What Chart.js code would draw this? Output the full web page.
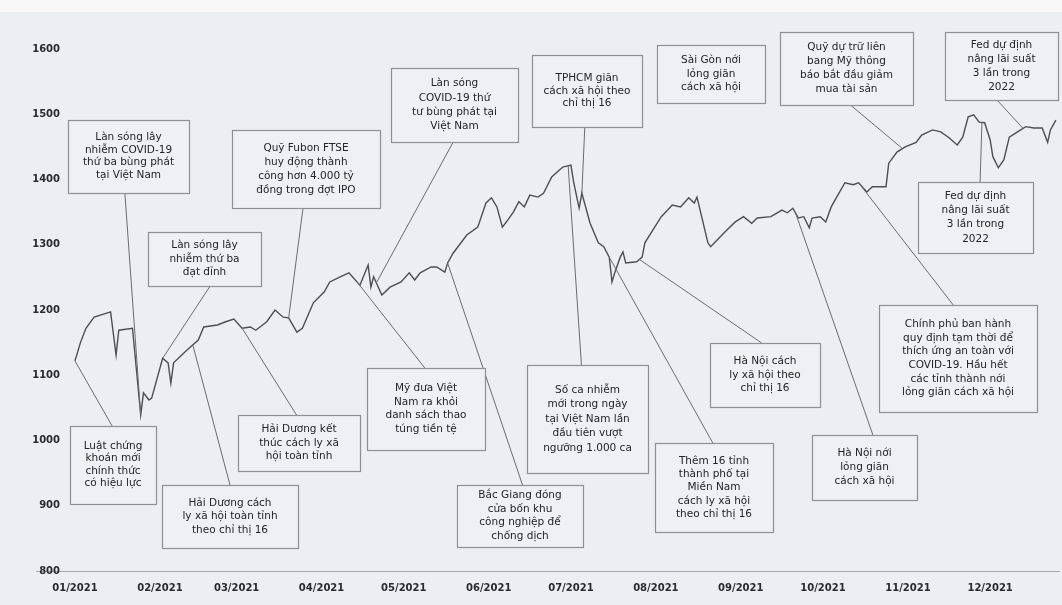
<!DOCTYPE html>
<html lang="vi">
<head>
<meta charset="utf-8">
<title>VN-Index 2021</title>
<script src="https://cdn.jsdelivr.net/npm/chart.js@4.4.0/dist/chart.umd.min.js"></script>
<style>
html, body { margin: 0; padding: 0; background: #eceef1; }
canvas { display: block; }
</style>
</head>
<body>
<canvas id="myChart" width="1062" height="605"></canvas>
<script>
// day of year (0 = 01/01/2021) and VN-Index value
var days = [0, 2, 4, 7, 13, 15, 16, 21, 24, 25, 27, 28, 32, 34, 35, 36, 41, 45, 47, 52, 55, 58,
    61, 64, 66, 70, 73, 76, 78, 81, 83, 87, 91, 93, 97, 100, 104, 107, 108, 109, 112, 115,
    119, 122, 124, 126, 130, 132, 135, 136, 138, 143, 147, 150, 152, 154, 156, 158, 160, 162, 164, 166,
    169, 171, 174, 178, 181, 182, 184, 185, 188, 191, 193, 195, 196, 197, 199, 200, 201, 205, 207, 208,
    211, 214, 218, 221, 224, 226, 227, 229, 231, 232, 235, 238, 241, 244, 247, 249, 254, 258, 260, 262,
    264, 266, 268, 269, 272, 274, 276, 278, 281, 284, 286, 289, 291, 296, 297, 300, 303, 307, 309, 313,
    316, 319, 322, 324, 326, 328, 330, 332, 334, 335, 337, 339, 341, 344, 347, 350, 353, 355, 356, 358];
var values = [1122, 1150, 1172, 1189, 1197, 1131, 1169, 1172, 1039, 1073, 1062, 1065, 1126, 1119, 1088, 1119, 1139, 1154, 1174, 1177, 1182, 1186,
    1172, 1174, 1169, 1182, 1200, 1189, 1188, 1166, 1172, 1211, 1228, 1243, 1251, 1257, 1238, 1269, 1235, 1251, 1223, 1235,
    1243, 1257, 1246, 1257, 1266, 1266, 1258, 1272, 1287, 1315, 1327, 1364, 1372, 1358, 1327, 1338, 1350, 1366, 1358, 1376,
    1373, 1379, 1404, 1419, 1422, 1396, 1356, 1379, 1333, 1303, 1297, 1281, 1243, 1257, 1281, 1289, 1272, 1274, 1281, 1303,
    1323, 1343, 1361, 1358, 1372, 1364, 1373, 1338, 1303, 1297, 1310, 1323, 1335, 1343, 1333, 1341, 1343, 1353, 1349, 1356,
    1341, 1343, 1326, 1341, 1343, 1335, 1358, 1373, 1395, 1392, 1395, 1381, 1389, 1389, 1425, 1442, 1450, 1457, 1468, 1476,
    1473, 1464, 1453, 1465, 1496, 1499, 1488, 1487, 1461, 1435, 1418, 1430, 1465, 1473, 1481, 1479, 1479, 1457, 1476, 1491];

var monthDays = [0, 31, 59, 90, 120, 151, 181, 212, 243, 273, 304, 334];
var monthLabels = ['01/2021', '02/2021', '03/2021', '04/2021', '05/2021', '06/2021',
    '07/2021', '08/2021', '09/2021', '10/2021', '11/2021', '12/2021'];
var yMin = 800;
var yMax = 1600;
var yStep = 100;

// event notes and the day each one points at (null = no pointer)
var noteTexts = [
    'Làn sóng lây\nnhiễm COVID-19\nthứ ba bùng phát\ntại Việt Nam',
    'Làn sóng lây\nnhiễm thứ ba\nđạt đỉnh',
    'Quỹ Fubon FTSE\nhuy động thành\ncông hơn 4.000 tỷ\nđồng trong đợt IPO',
    'Làn sóng\nCOVID-19 thứ\ntư bùng phát tại\nViệt Nam',
    'TPHCM giãn\ncách xã hội theo\nchỉ thị 16',
    'Sài Gòn nới\nlỏng giãn\ncách xã hội',
    'Quỹ dự trữ liên\nbang Mỹ thông\nbáo bắt đầu giảm\nmua tài sản',
    'Fed dự định\nnâng lãi suất\n3 lần trong\n2022',
    'Fed dự định\nnâng lãi suất\n3 lần trong\n2022',
    'Chính phủ ban hành\nquy định tạm thời để\nthích ứng an toàn với\nCOVID-19. Hầu hết\ncác tỉnh thành nới\nlỏng giãn cách xã hội',
    'Hà Nội nới\nlỏng giãn\ncách xã hội',
    'Hà Nội cách\nly xã hội theo\nchỉ thị 16',
    'Thêm 16 tỉnh\nthành phố tại\nMiền Nam\ncách ly xã hội\ntheo chỉ thị 16',
    'Số ca nhiễm\nmới trong ngày\ntại Việt Nam lần\nđầu tiên vượt\nngưỡng 1.000 ca',
    'Bắc Giang đóng\ncửa bốn khu\ncông nghiệp để\nchống dịch',
    'Mỹ đưa Việt\nNam ra khỏi\ndanh sách thao\ntúng tiền tệ',
    'Hải Dương kết\nthúc cách ly xã\nhội toàn tỉnh',
    'Hải Dương cách\nly xã hội toàn tỉnh\ntheo chỉ thị 16',
    'Luật chứng\nkhoán mới\nchính thức\ncó hiệu lực'
];
var noteDays = [24, 32, 78, 110, 185, null, 302, 346, 331, 286, 263, 206, 195, 180, 136, 103, 61, 43, 0];

// box layout: left, top, width, height, edge the pointer leaves from, position along that edge, line height
var noteBoxes = [
    [68, 120, 121, 73, 'bottom', 0.47, 12.5],
    [148, 232, 113, 54, 'bottom', 0.55, 13.3],
    [232, 130, 148, 78, 'bottom', 0.48, 14],
    [391, 68, 127, 74, 'bottom', 0.49, 14.2],
    [532, 55, 110, 72, 'bottom', 0.48, 12.5],
    [657, 45, 108, 58, 'bottom', 0.5, 13.3],
    [780, 32, 133, 73, 'bottom', 0.53, 14],
    [945, 32, 113, 68, 'bottom', 0.46, 14],
    [918, 182, 115, 71, 'top', 0.54, 14.2],
    [879, 305, 158, 107, 'top', 0.47, 13.7],
    [812, 435, 105, 65, 'top', 0.58, 14],
    [710, 343, 110, 64, 'top', 0.47, 13.3],
    [655, 443, 118, 89, 'top', 0.49, 13.3],
    [527, 365, 121, 108, 'top', 0.45, 14.5],
    [457, 485, 126, 62, 'top', 0.52, 13.5],
    [367, 368, 118, 82, 'top', 0.49, 13.5],
    [238, 415, 122, 56, 'top', 0.48, 13.5],
    [162, 485, 136, 63, 'top', 0.5, 13.3],
    [70, 426, 86, 78, 'top', 0.49, 12.5]
];

function valueAt(day) {
    for (var i = 1; i < days.length; i++) {
        if (days[i] >= day) {
            var t = (day - days[i - 1]) / (days[i] - days[i - 1]);
            return values[i - 1] + t * (values[i] - values[i - 1]);
        }
    }
    return values[values.length - 1];
}

var points = [];
for (var i = 0; i < days.length; i++) {
    points.push({x: days[i], y: values[i]});
}

var notesPlugin = {
    id: 'notes',
    beforeDraw: function(chart) {
        var ctx = chart.ctx;
        var area = chart.chartArea;
        ctx.save();
        ctx.fillStyle = '#eceef1';
        ctx.fillRect(0, 0, chart.width, chart.height);
        ctx.fillStyle = '#f8f8f9';
        ctx.fillRect(0, 0, chart.width, 12);
        ctx.strokeStyle = '#a4a6a9';
        ctx.lineWidth = 1;
        ctx.beginPath();
        ctx.moveTo(36, Math.round(area.bottom) + 0.5);
        ctx.lineTo(area.right, Math.round(area.bottom) + 0.5);
        ctx.stroke();
        ctx.restore();
    },
    afterDatasetsDraw: function(chart) {
        var ctx = chart.ctx;
        var xs = chart.scales.x;
        var ys = chart.scales.y;
        ctx.save();

        // pointers
        ctx.strokeStyle = '#6a6c70';
        ctx.lineWidth = 1;
        for (var i = 0; i < noteTexts.length; i++) {
            if (noteDays[i] === null) continue;
            var b = noteBoxes[i];
            var sx = b[0] + b[2] * b[5];
            var sy = b[4] === 'top' ? b[1] : b[1] + b[3];
            var ax = xs.getPixelForValue(noteDays[i]);
            var ay = ys.getPixelForValue(valueAt(noteDays[i]));
            ctx.beginPath();
            ctx.moveTo(sx, sy);
            ctx.lineTo(ax, ay);
            ctx.stroke();
        }

        // boxes
        ctx.font = '10.5px "DejaVu Sans"';
        ctx.textAlign = 'center';
        ctx.textBaseline = 'middle';
        for (var i = 0; i < noteTexts.length; i++) {
            var b = noteBoxes[i];
            ctx.fillStyle = '#eef0f3';
            ctx.fillRect(b[0], b[1], b[2], b[3]);
            ctx.strokeStyle = '#8e9094';
            ctx.lineWidth = 1.2;
            ctx.strokeRect(b[0] + 0.5, b[1] + 0.5, b[2], b[3]);
            var lines = noteTexts[i].split('\n');
            var lh = b[6];
            var cy = b[1] + b[3] / 2 - (lines.length - 1) * lh / 2;
            ctx.fillStyle = '#232427';
            for (var j = 0; j < lines.length; j++) {
                ctx.fillText(lines[j], b[0] + b[2] / 2, cy + j * lh);
            }
        }
        ctx.restore();
    }
};

var ctx = document.getElementById('myChart').getContext('2d');
var myChart = new Chart(ctx, {
    type: 'line',
    data: {
        datasets: [{
            label: 'VN-Index',
            data: points,
            borderColor: '#4d4e52',
            borderWidth: 1.4,
            pointRadius: 0,
            tension: 0,
            fill: false
        }]
    },
    options: {
        responsive: false,
        animation: false,
        devicePixelRatio: 1,
        layout: { padding: { top: 49, right: 2, bottom: 0, left: 0 } },
        plugins: {
            legend: { display: false },
            tooltip: { enabled: false }
        },
        scales: {
            x: {
                type: 'linear',
                min: -4,
                max: 359.5,
                grid: { display: false, drawTicks: false },
                border: { display: false },
                afterBuildTicks: function(scale) {
                    scale.ticks = monthDays.map(function(d) { return {value: d}; });
                },
                afterFit: function(scale) { scale.height = 34; },
                ticks: {
                    autoSkip: false,
                    maxRotation: 0,
                    padding: 11,
                    color: '#2a2b2e',
                    font: { family: 'DejaVu Sans', size: 10, weight: 'bold' },
                    callback: function(v) {
                        var k = monthDays.indexOf(v);
                        return k >= 0 ? monthLabels[k] : '';
                    }
                }
            },
            y: {
                min: yMin,
                max: yMax,
                grid: { display: false, drawTicks: false },
                border: { display: false },
                afterFit: function(scale) { scale.width = 64; },
                ticks: {
                    stepSize: yStep,
                    padding: 4,
                    color: '#2a2b2e',
                    font: { family: 'DejaVu Sans', size: 10, weight: 'bold' },
                    callback: function(v) { return String(v); }
                }
            }
        }
    },
    plugins: [notesPlugin]
});
</script>
</body>
</html>
